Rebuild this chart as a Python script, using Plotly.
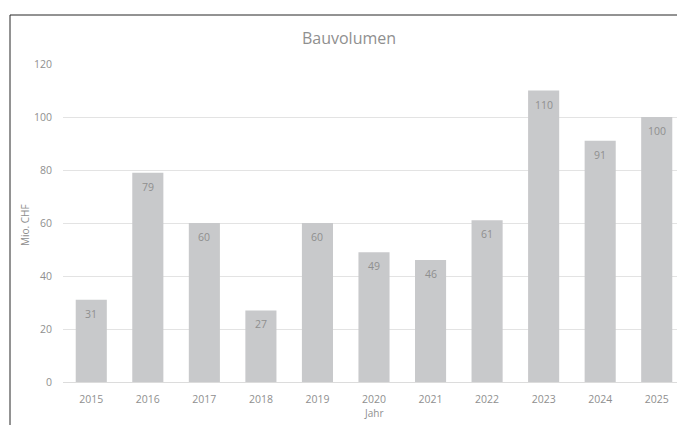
import plotly.graph_objects as go

years = ["2015", "2016", "2017", "2018", "2019", "2020", "2021", "2022", "2023", "2024", "2025"]
values = [31, 79, 60, 27, 60, 49, 46, 61, 110, 91, 100]
y_ticks = [0, 20, 40, 60, 80, 100, 120]

FONT = "Open Sans"
GRAY = "#8f8f8f"

# The page has an 8px body margin, so the figure is drawn 8px smaller and shifted.
W, H = 677, 417
L, T, B, R = 55, 56, 43, 0
PW = W - L - R
PH = H - T - B

def px(xp):
    return (xp - L) / PW

def py(yp):
    return (H - B - yp) / PH

fig = go.Figure()
fig.add_trace(go.Bar(
    x=years, y=values,
    marker=dict(color="#c8c9cb", line=dict(width=0)),
    hoverinfo="x+y",
))

# data labels: category axis positions given by serial index of each category
for i, yv in enumerate(values):
    fig.add_annotation(x=i, y=yv, xref="x", yref="y", text=str(yv),
                       showarrow=False, yshift=-14,
                       font=dict(family=FONT, size=10.5, color=GRAY))

# axis titles
fig.add_annotation(x=px(17), y=py(217), xref="paper", yref="paper", text="Mio. CHF",
                   textangle=-90, showarrow=False, xanchor="center", yanchor="middle",
                   font=dict(family=FONT, size=10, color=GRAY))
fig.add_annotation(x=px(365), y=py(405), xref="paper", yref="paper", text="Jahr",
                   showarrow=False, xanchor="center", yanchor="middle",
                   font=dict(family=FONT, size=10, color=GRAY))

fig.update_layout(
    width=W, height=H,
    margin=dict(l=L, r=R, t=T, b=B),
    paper_bgcolor="white", plot_bgcolor="white",
    bargap=0.45,
    showlegend=False,
    title=dict(text="Bauvolumen", x=px(341), xref="paper", xanchor="center",
               y=1 - 30 / H, yanchor="middle", yref="container",
               font=dict(family=FONT, size=16, color=GRAY)),
    font=dict(family=FONT, size=10.5, color=GRAY),
)
fig.update_xaxes(
    type="category", categoryorder="array", categoryarray=years,
    range=[-0.5, len(years) - 0.5],
    showgrid=False, showline=False, ticks="", ticklabelstandoff=9,
    tickfont=dict(family=FONT, size=10.5, color=GRAY),
)
fig.update_yaxes(
    range=[0, 120], tickvals=y_ticks, showgrid=True, gridcolor="#e3e3e3", gridwidth=1,
    zeroline=True, zerolinecolor="#dcdcdc", zerolinewidth=1,
    showline=False, ticks="", ticklabelstandoff=10,
    tickfont=dict(family=FONT, size=10.5, color=GRAY),
)

# outer chart border (left and top edges visible)
fig.add_shape(type="rect", xref="paper", yref="paper",
              x0=px(2), x1=1.2, y0=-0.5, y1=py(7),
              line=dict(color="#262626", width=1), fillcolor="rgba(0,0,0,0)", layer="above")

fig.write_html("out.html")
